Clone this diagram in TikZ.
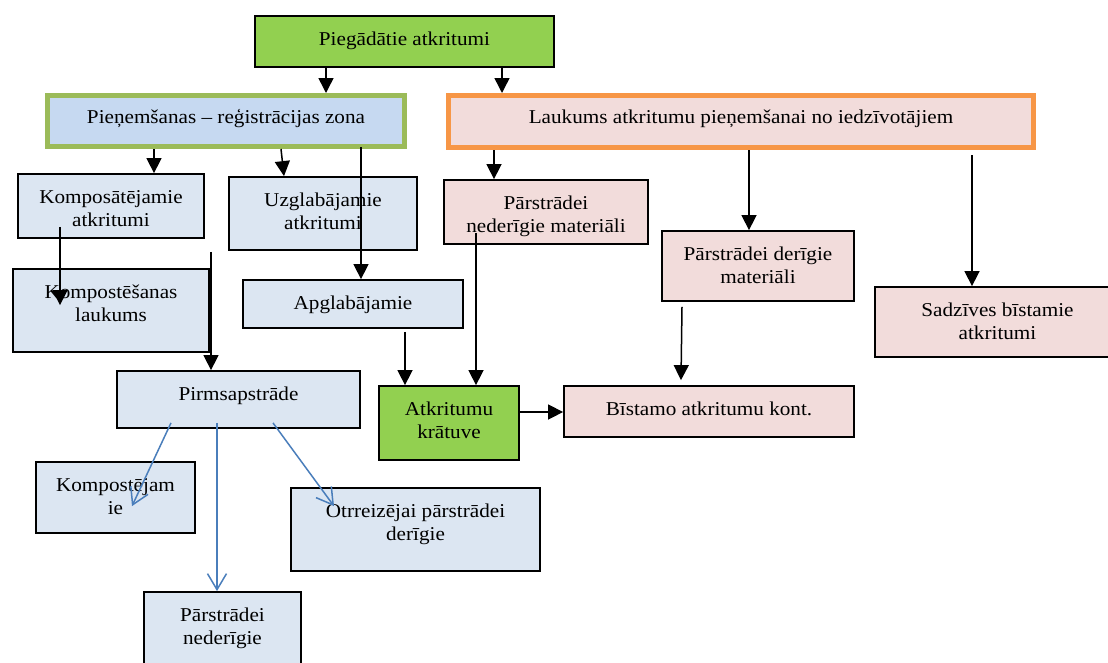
\documentclass[tikz,border=0pt]{standalone}
\usepackage{fontspec}
\setmainfont{Liberation Serif}[FakeStretch=1.08]
\usetikzlibrary{arrows.meta}
\definecolor{fillblue}{HTML}{DCE6F2}
\definecolor{fillblue2}{HTML}{C6D9F1}
\definecolor{fillpink}{HTML}{F2DCDB}
\definecolor{fillgreen}{HTML}{92D050}
\definecolor{olivegreen}{HTML}{9BBB59}
\definecolor{orng}{HTML}{F79646}
\definecolor{arrblue}{HTML}{4A7EBB}
\newcommand\tl[1]{\begin{tabular}[t]{@{}c@{}}#1\end{tabular}}
\newcommand\mkbox[7]{\node[#6, minimum width={(#4)-(#2)}, minimum height={(#5)-(#3)}, label={[lbl]north:{\tl{#7}}}] (#1) at ({((#2)+(#4))/2},{((#3)+(#5))/2}) {};}
\tikzset{
  box/.style={draw=black, line width=1.8pt, fill=fillblue, inner sep=0pt},
  pbox/.style={box, fill=fillpink},
  gbox/.style={box, fill=fillgreen},
  lbl/.style={anchor=base, yshift=-30.5pt, inner sep=0pt, font=\fontsize{19.6}{23}\selectfont},
  arr/.style={draw=black, line width=1.5pt, -{Triangle[width=15pt,length=15pt]}},
  barr/.style={draw=arrblue, line width=1.5pt, -{Straight Barb[width=19pt,length=16pt]}},
}
\begin{document}
\begin{tikzpicture}[x=1pt,y=-1pt]
\clip (0,0) rectangle (1108,662);
\fill[white] (0,0) rectangle (1108,662);
\mkbox{pieg}{255}{16}{554}{67}{gbox}{Piegādātie atkritumi}
\mkbox{pien}{47.5}{95.5}{404.5}{146.5}{box, fill=fillblue2, draw=olivegreen, line width=5pt}{Pieņemšanas – reģistrācijas zona}
\mkbox{lauk}{448.5}{95.5}{1033.5}{147.5}{box, fill=fillpink, draw=orng, line width=5pt}{Laukums atkritumu pieņemšanai no iedzīvotājiem}
\mkbox{komp}{18}{174}{204}{238}{box}{Komposātējamie\\atkritumi}
\mkbox{uzgl}{229}{177}{417}{250}{box}{Uzglabājamie\\atkritumi}
\mkbox{pned}{444}{180}{648}{244}{pbox}{Pārstrādei\\nederīgie materiāli}
\mkbox{pder}{662}{231}{854}{301}{pbox}{Pārstrādei derīgie\\materiāli}
\mkbox{sadz}{875}{287}{1120}{357}{pbox}{Sadzīves bīstamie\\atkritumi}
\mkbox{kpl}{13}{269}{209}{352}{box}{Kompostēšanas\\laukums}
\mkbox{apgl}{243}{280}{463}{328}{box}{Apglabājamie}
\mkbox{pirm}{117}{371}{360}{428}{box}{Pirmsapstrāde}
\mkbox{krat}{379}{386}{519}{460}{gbox}{Atkritumu\\krātuve}
\mkbox{bist}{564}{386}{854}{437}{pbox}{Bīstamo atkritumu kont.}
\mkbox{kpje}{36}{462}{195}{533}{box}{Kompostējam\\ie}
\mkbox{otr}{291}{488}{540}{571}{box}{Otrreizējai pārstrādei\\derīgie}
\mkbox{bott}{144}{592}{301}{700}{box}{Pārstrādei\\nederīgie}
% black connectors
\draw[arr] (pieg.south -| 326,0) -- (pien.north -| 326,0);
\draw[arr] (pieg.south -| 502,0) -- (lauk.north -| 502,0);
\draw[arr] (pien.south -| 154,0) -- (komp.north -| 154,0);
\draw[arr] (pien.south -| 281,0) -- (uzgl.north -| 284,0);
\draw[arr] ([yshift=2pt]pien.south -| 361,0) -- (apgl.north -| 361,0);
\draw[arr] ([yshift=12pt]komp.south -| 60,0) -- ([yshift=-37pt]kpl.north -| 60,0);
\draw[arr] ([yshift=-13pt]komp.south -| 211,0) -- (pirm.north -| 211,0);
\draw[arr] (lauk.south -| 494,0) -- (pned.north -| 494,0);
\draw[arr] (lauk.south -| 749,0) -- (pder.north -| 749,0);
\draw[arr] ([yshift=-5pt]lauk.south -| 972,0) -- (sadz.north -| 972,0);
\draw[arr] ([yshift=12pt]pned.south -| 476,0) -- (krat.north -| 476,0);
\draw[arr] ([yshift=-3pt]apgl.south -| 405,0) -- (krat.north -| 405,0);
\draw[arr] ([yshift=-5pt]pder.south -| 682,0) -- ([yshift=5pt]bist.north -| 681,0);
\draw[arr] (krat.east |- 0,412) -- (bist.west |- 0,412);
% blue connectors
\draw[barr] ([yshift=6pt]pirm.south -| 171,0) -- ([yshift=-45pt]kpje.north -| 132,0);
\draw[barr] ([yshift=6pt]pirm.south -| 217,0) -- (bott.north -| 217,0);
\draw[barr] ([yshift=6pt]pirm.south -| 273,0) -- ([yshift=-19pt]otr.north -| 334,0);
\end{tikzpicture}
\end{document}
